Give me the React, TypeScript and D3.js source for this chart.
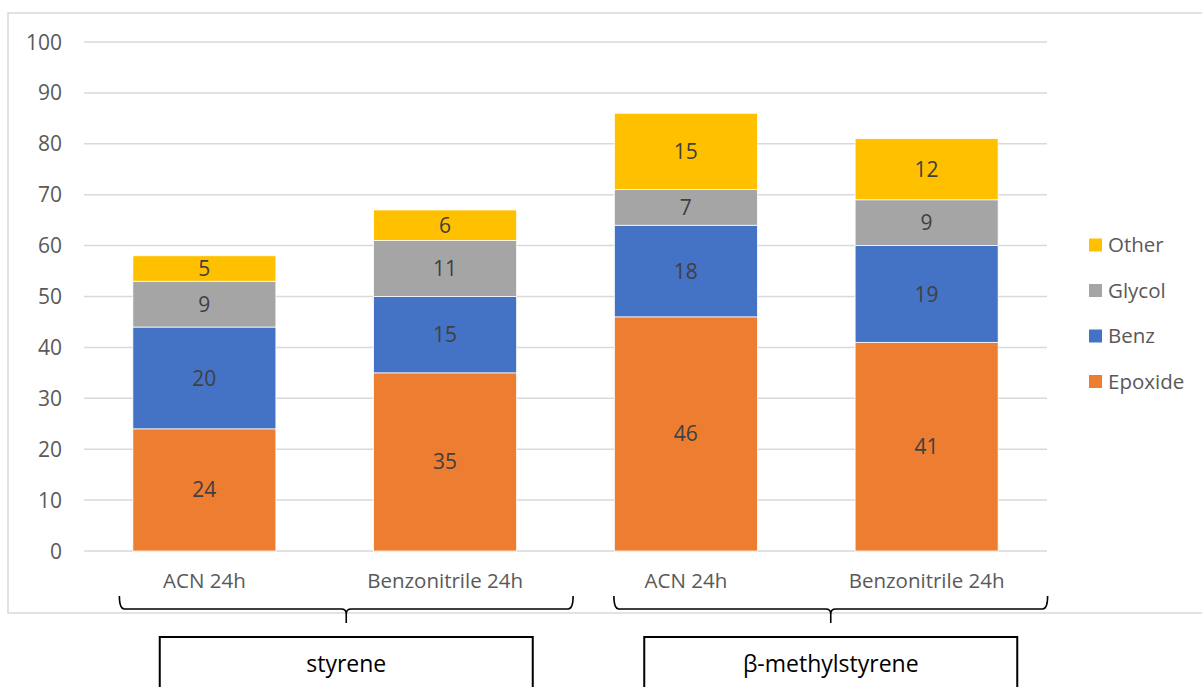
import React from "react";
import * as d3 from "d3";

const categories = ["ACN 24h", "Benzonitrile 24h", "ACN 24h", "Benzonitrile 24h"];
const seriesNames = ["Epoxide", "Benz", "Glycol", "Other"];
const epoxide = [24, 35, 46, 41];
const benz = [20, 15, 18, 19];
const glycol = [9, 11, 7, 9];
const other = [5, 6, 15, 12];
const yTicks = [0, 10, 20, 30, 40, 50, 60, 70, 80, 90, 100];
const groups = ["styrene", "β-methylstyrene"];
const groupFrom = [0, 2];
const groupTo = [1, 3];
const colors = ["#ED7D31", "#4472C4", "#A5A5A5", "#FFC000"];

const W = 1202;
const H = 687;
const FONT = "'Open Sans', sans-serif";
// brace extents relative to first / last bar centre (layout)
const braceLeft = [-85, -72];
const braceRight = [128, 121];

export default function App() {
  const x = d3
    .scaleBand<number>()
    .domain(categories.map((_, i) => i))
    .range([84, 1047])
    .paddingInner(0.406)
    .paddingOuter(0.203);
  const y = d3.scaleLinear().domain([0, 100]).range([551, 42]);

  const table = categories.map((c, i) => ({
    idx: i,
    Epoxide: epoxide[i],
    Benz: benz[i],
    Glycol: glycol[i],
    Other: other[i],
  }));
  const stack = d3.stack<any>().keys(seriesNames)(table);

  const bw = x.bandwidth();

  const bracePath = (x1: number, x2: number, mid: number) => {
    const top = 596, line = 609, tip = 623, r = 5;
    return `M${x1},${top} Q${x1},${line} ${x1 + r},${line} L${mid - r},${line} Q${mid},${line} ${mid},${line + r} L${mid},${tip} M${mid},${line + r} Q${mid},${line} ${mid + r},${line} L${x2 - r},${line} Q${x2},${line} ${x2},${top}`;
  };

  return (
    <svg
      width={W}
      height={H}
      style={{ position: "absolute", left: 0, top: 0, display: "block", background: "#fff" }}
      fontFamily={FONT}
    >
      <rect x={8} y={13} width={1210} height={600} fill="#fff" stroke="#D9D9D9" strokeWidth={1.5} />
      {yTicks.map((t) => (
        <g key={t}>
          <line x1={84} x2={1047} y1={y(t)} y2={y(t)} stroke="#D9D9D9" strokeWidth={1.5} />
          <text x={62} y={y(t)} dy="0.36em" textAnchor="end" fontSize={21} fill="#595959">
            {t}
          </text>
        </g>
      ))}
      {stack.map((s, si) => (
        <g key={s.key}>
          {s.map((d, i) => (
            <g key={i}>
              <rect
                x={x(i)!}
                y={y(d[1])}
                width={bw}
                height={y(d[0]) - y(d[1])}
                fill={colors[si]}
                stroke="#fff"
                strokeWidth={0.75}
              />
              <text
                x={x(i)! + bw / 2}
                y={(y(d[0]) + y(d[1])) / 2}
                dy="0.36em"
                textAnchor="middle"
                fontSize={21}
                fill="#404040"
              >
                {d[1] - d[0]}
              </text>
            </g>
          ))}
        </g>
      ))}
      {categories.map((c, i) => (
        <text
          key={i}
          x={x(i)! + bw / 2}
          y={581}
          dy="0.36em"
          textAnchor="middle"
          fontSize={20.5}
          fill="#595959"
        >
          {c}
        </text>
      ))}
      {seriesNames
        .slice()
        .reverse()
        .map((n, i) => {
          const si = seriesNames.length - 1 - i;
          const cy = 245 + i * 45.5;
          return (
            <g key={n}>
              <rect x={1089} y={cy - 6.5} width={13} height={13} fill={colors[si]} />
              <text x={1108} y={cy} dy="0.36em" fontSize={20.5} fill="#595959">
                {n}
              </text>
            </g>
          );
        })}
      {groups.map((g, gi) => {
        const c1 = x(groupFrom[gi])! + bw / 2;
        const c2 = x(groupTo[gi])! + bw / 2;
        const x1 = c1 + braceLeft[gi];
        const x2 = c2 + braceRight[gi];
        const mid = (x1 + x2) / 2;
        return (
          <g key={g}>
            <path d={bracePath(x1, x2, mid)} fill="none" stroke="#000" strokeWidth={1.6} />
            <rect
              x={mid - 186.5}
              y={637}
              width={373}
              height={80}
              fill="#fff"
              stroke="#000"
              strokeWidth={2}
            />
            <text x={mid} y={664} dy="0.36em" textAnchor="middle" fontSize={23} fill="#000">
              {g}
            </text>
          </g>
        );
      })}
    </svg>
  );
}
